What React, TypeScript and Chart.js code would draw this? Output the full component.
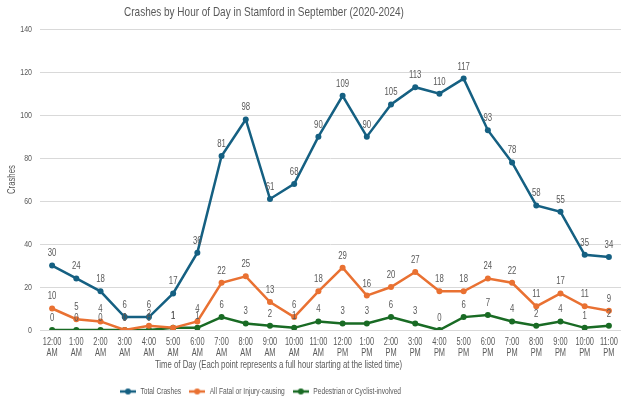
import React, { useEffect, useRef } from "react";
import { Chart, registerables } from "chart.js";

Chart.register(...registerables);

const hours = [
  "12:00 AM", "1:00 AM", "2:00 AM", "3:00 AM", "4:00 AM", "5:00 AM", "6:00 AM", "7:00 AM",
  "8:00 AM", "9:00 AM", "10:00 AM", "11:00 AM", "12:00 PM", "1:00 PM", "2:00 PM", "3:00 PM",
  "4:00 PM", "5:00 PM", "6:00 PM", "7:00 PM", "8:00 PM", "9:00 PM", "10:00 PM", "11:00 PM",
];
const totalCrashes = [30, 24, 18, 6, 6, 17, 36, 81, 98, 61, 68, 90, 109, 90, 105, 113, 110, 117, 93, 78, 58, 55, 35, 34];
const fatalInjury = [10, 5, 4, 0, 2, 1, 4, 22, 25, 13, 6, 18, 29, 16, 20, 27, 18, 18, 24, 22, 11, 17, 11, 9];
const pedCyclist = [0, 0, 0, 0, 0, 1, 1, 6, 3, 2, 1, 4, 3, 3, 6, 3, 0, 6, 7, 4, 2, 4, 1, 2];

const seriesNames = ["Total Crashes", "All Fatal or Injury-causing", "Pedestrian or Cyclist-involved"];
const colors = ["#156082", "#E97132", "#196B24"];

const FONT = "'Liberation Sans', Arial, sans-serif";
const GRAY = "#595959";
const NARROW = 0.74; // horizontal text compression to imitate a narrow face

// horizontal centres of the title, legend and x-axis title in the reference
const TITLE_CENTER = 264;
const LEGEND_CENTER = 264.5;
const XTITLE_CENTER = 278.5;

function makeNarrow(ctx: CanvasRenderingContext2D) {
  const measure = ctx.measureText.bind(ctx);
  const fill = ctx.fillText.bind(ctx);
  (ctx as any).measureText = (t: string) => {
    const m = measure(t);
    return {
      width: m.width * NARROW,
      actualBoundingBoxAscent: m.actualBoundingBoxAscent,
      actualBoundingBoxDescent: m.actualBoundingBoxDescent,
      actualBoundingBoxLeft: m.actualBoundingBoxLeft * NARROW,
      actualBoundingBoxRight: m.actualBoundingBoxRight * NARROW,
      fontBoundingBoxAscent: m.fontBoundingBoxAscent,
      fontBoundingBoxDescent: m.fontBoundingBoxDescent,
    };
  };
  (ctx as any).fillText = (t: string, x: number, y: number, mw?: number) => {
    const w = Math.max(0.1, measure(String(t)).width * NARROW);
    fill(t, x, y, mw !== undefined && mw !== null ? Math.min(mw, w) : w);
  };
}

function legendMarker(color: string): HTMLCanvasElement {
  const c = document.createElement("canvas");
  c.width = 16;
  c.height = 8;
  const ctx = c.getContext("2d")!;
  ctx.strokeStyle = color;
  ctx.lineWidth = 2.5;
  ctx.beginPath();
  ctx.moveTo(0, 4);
  ctx.lineTo(16, 4);
  ctx.stroke();
  ctx.fillStyle = color;
  ctx.beginPath();
  ctx.arc(8, 4, 3, 0, Math.PI * 2);
  ctx.fill();
  return c;
}

const dataLabelPlugin = {
  id: "dataLabels",
  afterDatasetsDraw(chart: any) {
    const ctx = chart.ctx;
    ctx.save();
    ctx.font = `10.5px ${FONT}`;
    ctx.fillStyle = GRAY;
    ctx.textAlign = "center";
    ctx.textBaseline = "middle";
    chart.data.datasets.forEach((ds: any, i: number) => {
      const meta = chart.getDatasetMeta(i);
      meta.data.forEach((pt: any, j: number) => {
        ctx.fillText(String(ds.data[j]), pt.x, pt.y - 12);
      });
    });
    ctx.restore();
  },
};

const recenterPlugin = {
  id: "recenter",
  afterLayout(chart: any) {
    const t = chart.titleBlock;
    if (t) {
      t.left = 0;
      t.right = TITLE_CENTER * 2;
    }
    const l = chart.legend;
    if (l) {
      const pad = l.options.labels.padding || 0;
      l.left = 0;
      l.right = LEGEND_CENTER * 2 - pad;
    }
    const sx = chart.scales.x;
    if (sx && !sx.__wrapped) {
      sx.__wrapped = true;
      const orig = sx.drawTitle.bind(sx);
      sx.drawTitle = () => {
        const L = sx.left;
        const R = sx.right;
        const half = (R - L) / 2;
        sx.left = XTITLE_CENTER - half;
        sx.right = XTITLE_CENTER + half;
        orig();
        sx.left = L;
        sx.right = R;
      };
    }
  },
};

export default function App() {
  const ref = useRef<HTMLCanvasElement>(null);
  useEffect(() => {
    const canvas = ref.current!;
    const ctx = canvas.getContext("2d")!;
    makeNarrow(ctx);
    const series = [totalCrashes, fatalInjury, pedCyclist];
    const chart = new Chart(canvas, {
      type: "line",
      data: {
        labels: hours.map((h) => h.split(" ")),
        datasets: series.map((d, i) => ({
          label: seriesNames[i],
          data: d,
          borderColor: colors[i],
          backgroundColor: colors[i],
          borderWidth: 2.5,
          pointRadius: 3,
          pointBackgroundColor: colors[i],
          pointBorderColor: colors[i],
          pointBorderWidth: 0,
          tension: 0,
          pointStyle: "circle",
        })),
      },
      options: {
        responsive: false,
        animation: false,
        maintainAspectRatio: false,
        layout: { autoPadding: false, padding: { left: 6, right: 0, top: 0, bottom: -4 } },
        plugins: {
          title: {
            display: true,
            text: "Crashes by Hour of Day in Stamford in September (2020-2024)",
            color: GRAY,
            font: { family: FONT, size: 13.5, weight: "normal" },
            padding: { top: 4, bottom: 9 },
          },
          legend: {
            position: "bottom",
            labels: {
              color: GRAY,
              font: { family: FONT, size: 9 },
              usePointStyle: true,
              pointStyleWidth: 16,
              generateLabels: (chart: any) =>
                chart.data.datasets.map((ds: any, i: number) => ({
                  text: ds.label,
                  pointStyle: legendMarker(colors[i]),
                  fillStyle: colors[i],
                  strokeStyle: colors[i],
                  fontColor: GRAY,
                  datasetIndex: i,
                  hidden: false,
                  lineWidth: 0,
                })),
              boxWidth: 16,
              padding: 8,
            },
          },
          tooltip: { enabled: false },
        },
        scales: {
          x: {
            offset: true,
            grid: { display: false, drawTicks: false },
            border: { display: true, color: "#d9d9d9" },
            ticks: {
              color: GRAY,
              font: { family: FONT, size: 10, lineHeight: 1.1 },
              maxRotation: 0,
              autoSkip: false,
              padding: 6.5,
            },
            title: {
              display: true,
              text: "Time of Day (Each point represents a full hour starting at the listed time)",
              color: GRAY,
              font: { family: FONT, size: 10.5 },
              padding: { top: 0, bottom: 7.5 },
            },
            afterFit: (s: any) => {
              s.height = 49;
              s.paddingLeft = 0;
              s.paddingRight = 0;
            },
          },
          y: {
            min: 0,
            max: 140,
            ticks: {
              stepSize: 20,
              color: GRAY,
              font: { family: FONT, size: 9.5 },
              padding: 8,
            },
            grid: { color: "#d9d9d9", drawTicks: false },
            border: { display: false },
            title: {
              display: true,
              text: "Crashes",
              color: GRAY,
              font: { family: FONT, size: 10.5 },
              padding: 0,
            },
            afterFit: (s: any) => {
              s.width = 34;
            },
          },
        },
      },
      plugins: [dataLabelPlugin, recenterPlugin],
    } as any);
    return () => chart.destroy();
  }, []);
  return (
    <div style={{ position: "fixed", left: 0, top: 0, width: 621, height: 402, background: "#fff" }}>
      <canvas ref={ref} width={621} height={402} style={{ width: 621, height: 402 }} />
    </div>
  );
}
